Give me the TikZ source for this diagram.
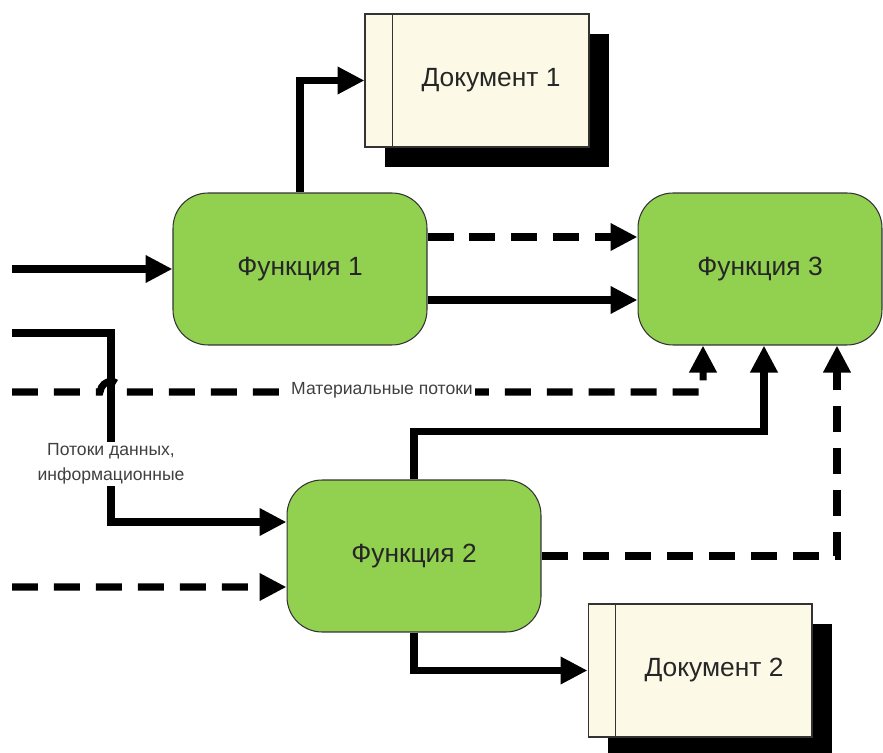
\documentclass[tikz,border=0pt]{standalone}
\usepackage{fontspec}
\setmainfont{Liberation Sans}
\usetikzlibrary{arrows.meta,shadows,positioning}
\definecolor{funcgreen}{RGB}{146,208,80}
\definecolor{doccream}{RGB}{252,250,230}

\begin{document}
\begin{tikzpicture}[x=0.02cm,y=-0.02cm,
    func/.style={draw=black!80,line width=0.6pt,fill=funcgreen,rounded corners=0.7cm,
      minimum width=5.08cm,minimum height=3.04cm,font=\fontsize{15}{17}\selectfont,text=black!85},
    doc/.style={draw=black!80,line width=0.6pt,fill=doccream,minimum width=4.48cm,minimum height=2.66cm,
      font=\fontsize{15}{17}\selectfont,text=black!85,
      drop shadow={shadow xshift=0.4cm,shadow yshift=-0.4cm,fill=black,opacity=1}},
    flow/.style={line width=4pt,-{Triangle[length=0.54cm,width=0.52cm]}},
    matflow/.style={flow,dash pattern=on 0.52cm off 0.32cm},
    lbl/.style={fill=white,inner sep=1pt,font=\fontsize{10}{14.5}\selectfont,text=black!75,align=center}]
  \useasboundingbox (0,0) rectangle (883,753);

  \node[func] (f1) at (300,269) {Функция 1};
  \node[func,minimum width=4.88cm] (f3) at (760,269) {Функция 3};
  \node[func] (f2) at (414,556) {Функция 2};
  \node[doc] (d1) at (477,80.5) {\hspace*{0.56cm}Документ 1};
  \node[doc] (d2) at (700,670.5) {\hspace*{0.56cm}Документ 2};
  \draw[line width=0.6pt,black!80] ([xshift=0.56cm]d1.north west) -- ([xshift=0.56cm]d1.south west);
  \draw[line width=0.6pt,black!80] ([xshift=0.56cm]d2.north west) -- ([xshift=0.56cm]d2.south west);

  \coordinate (a1) at (12,269);
  \coordinate (a2) at (12,333);
  \coordinate (a3) at (12,392);
  \coordinate (a4) at (12,587);

  \draw[flow] (a1) -- (f1.west);
  \draw[flow] (f1.north) |- (d1.west);
  \draw[matflow] ([yshift=0.64cm]f1.east) -- ([yshift=0.64cm]f3.west);
  \draw[flow] ([yshift=-0.62cm]f1.east) -- ([yshift=-0.62cm]f3.west);
  \draw[matflow] (a3) -- (100,392) .. controls (102,378) and (120,378) .. (122,392)
    -| ([xshift=-1.14cm]f3.south);
  \draw[flow] (a2) -- (111,333) |- ([yshift=0.68cm]f2.west);
  \draw[flow] (f2.north) -- ++(0,-48) -| ([xshift=0.08cm]f3.south);
  \draw[matflow] (f2.east) -| ([xshift=1.54cm]f3.south);
  \draw[matflow] (a4) -- ([yshift=-0.62cm]f2.west);
  \draw[flow] (f2.south) |- (d2.west);

  \node[lbl] (mat) at (382,390) {Материальные потоки};
  \node[lbl] (dat) at (111,464) {Потоки данных,\\информационные};
\end{tikzpicture}
\end{document}
